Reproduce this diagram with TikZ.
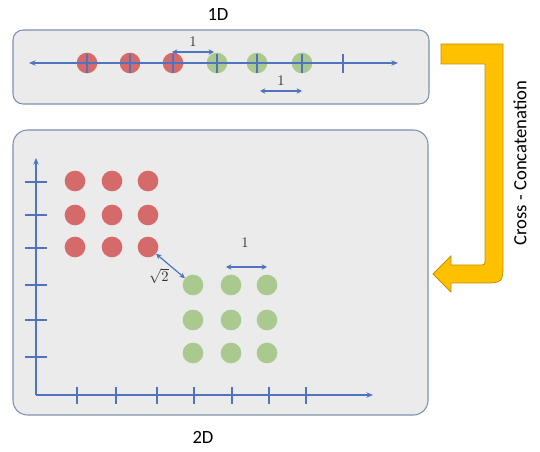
\documentclass[tikz,border=0pt]{standalone}
\usepackage{fontspec}
\newfontfamily\calibri{Carlito}
\usepackage{tikz}
\usetikzlibrary{arrows.meta}
\definecolor{boxgray}{RGB}{235,235,235}
\definecolor{boxline}{RGB}{125,145,175}
\definecolor{axisblue}{RGB}{80,115,190}
\definecolor{dotred}{RGB}{212,106,106}
\definecolor{dotgreen}{RGB}{169,201,142}
\definecolor{arrowgold}{RGB}{255,192,0}
\definecolor{arrowedge}{RGB}{190,145,0}

\tikzset{
  panel/.style={fill=boxgray,draw=boxline,line width=0.8pt},
  axis/.style={draw=axisblue,line width=0.8pt},
  tip/.style={-{Stealth[length=5pt,width=4pt]}},
  dim/.style={axisblue,line width=0.9pt,{Stealth[length=4pt,width=4pt]}-{Stealth[length=4pt,width=4pt]}},
  reddot/.style={circle,fill=dotred,minimum size=15.5pt,inner sep=0pt},
  greendot/.style={circle,fill=dotgreen,minimum size=15.5pt,inner sep=0pt},
  caption/.style={font=\calibri\fontsize{14}{16}\selectfont},
  dimlabel/.style={text=black!80,font=\fontsize{10.5}{12}\selectfont}
}

\begin{document}
\begin{tikzpicture}[x=0.75pt,y=-0.75pt]
\useasboundingbox (0,0) rectangle (540,452);

%1D
\node[caption] (lab1d) at (218,14) {1D};
\draw[panel,rounded corners=7.5pt] (13,30) rectangle (429,104);
\foreach \x [count=\i] in {87,130,173} \node[reddot] (r\i) at (\x,63) {};
\foreach \x [count=\i] in {217,257,302} \node[greendot] (g\i) at (\x,63) {};
\draw[axis,{Stealth[length=5pt,width=4pt]}-{Stealth[length=5pt,width=4pt]}] (29,63) -- (398,63);
\foreach \x in {87,130,173,217,257,302,343} \draw[axis] (\x,54) -- (\x,73);

\coordinate (d1a) at (172,52);
\coordinate (d1b) at (214,52);
\draw[dim] (d1a) -- (d1b) node[midway,above,dimlabel] (one1a) {$1$};
\coordinate (d2a) at (260,91);
\coordinate (d2b) at (302,91);
\draw[dim] (d2a) -- (d2b) node[midway,above,dimlabel] (one1b) {$1$};

%2D
\draw[panel,rounded corners=11pt] (13,130) rectangle (428,415);
\draw[axis,tip] (36,395) -- (36,158);
\draw[axis,tip] (36,395) -- (373,395);
\foreach \y in {182,215,248,285,320,357} \draw[axis] (25,\y) -- (47,\y);
\foreach \x in {77,116,157,194,232,269,306} \draw[axis] (\x,387) -- (\x,404);

\foreach \x [count=\i] in {75,112,148}
  \foreach \y [count=\j] in {181,215,247}
    \node[reddot] (R\j\i) at (\x,\y) {};
\foreach \x [count=\i] in {193,231,267}
  \foreach \y [count=\j] in {285,320,353}
    \node[greendot] (G\j\i) at (\x,\y) {};

\draw[dim] (R33) -- (G11) node[midway,below left,inner sep=1pt,dimlabel] (diag) {$\sqrt{2}$};
\coordinate (d3a) at (226,267);
\coordinate (d3b) at (267,267);
\draw[dim] (d3a) -- (d3b);
\node[dimlabel] (one2d) at (245,243) {$1$};
\node[caption] (lab2d) at (203,437) {2D};

%arrow
\filldraw[fill=arrowgold,draw=arrowedge,line width=0.6pt] (441,44) -- (503,44) -- (503,262)
  .. controls (503,283) .. (482,283) -- (451,283) -- (451,292) -- (433,274) -- (451,256)
  -- (451,265) -- (479,265) .. controls (485,265) .. (485,259) -- (485,64) -- (441,64) -- cycle;
\node[caption,rotate=90] (cc) at (520,163) {Cross - Concatenation};

\end{tikzpicture}
\end{document}
